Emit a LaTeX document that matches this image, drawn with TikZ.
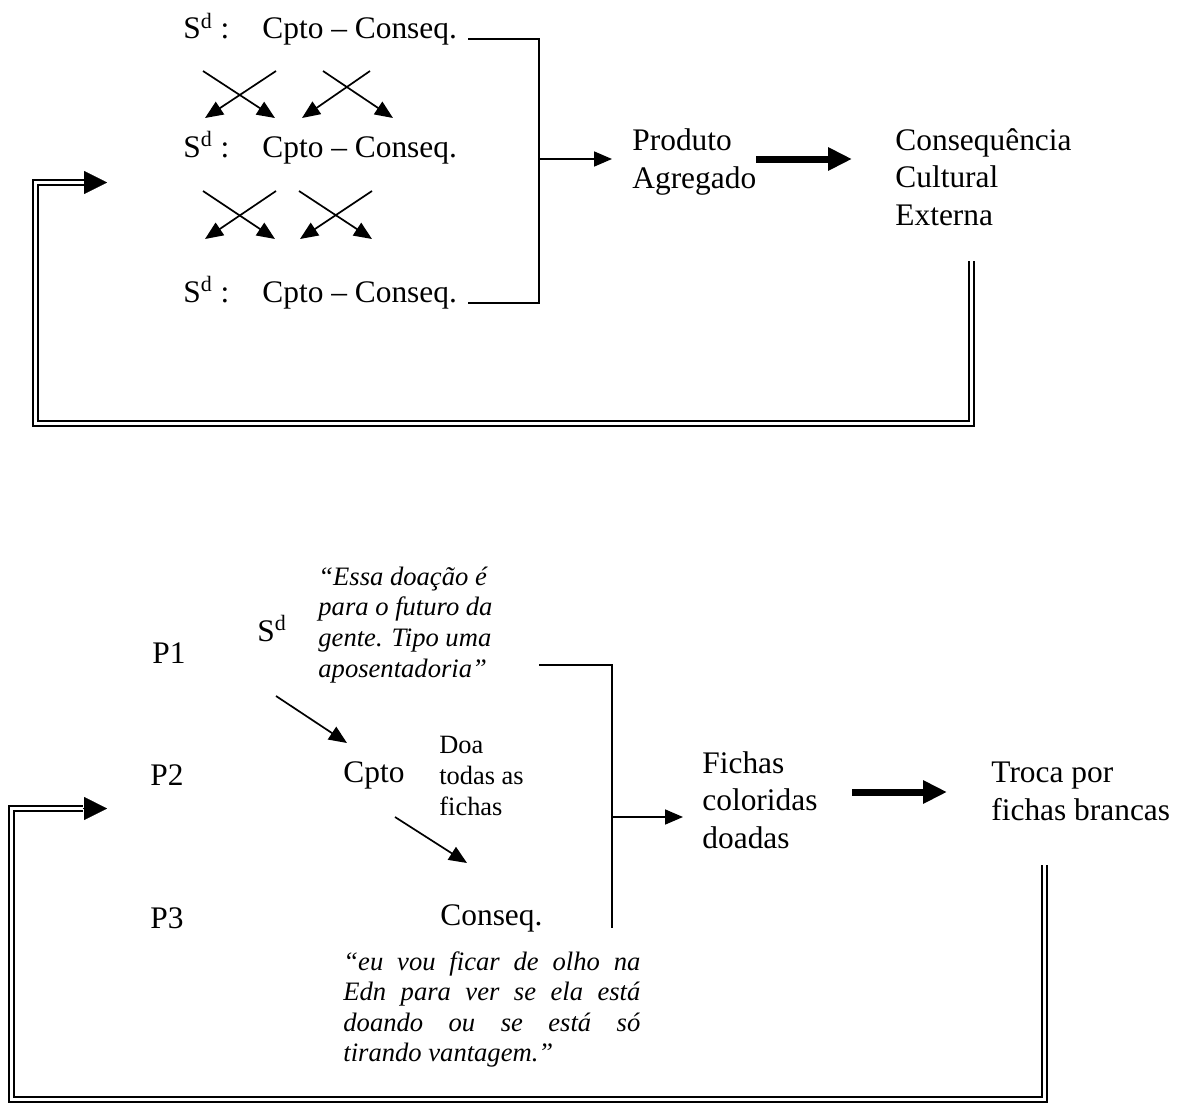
\documentclass[tikz,border=0pt]{standalone}
\usepackage{fontspec}
\setmainfont{Liberation Serif}
\usetikzlibrary{arrows.meta}

\newcommand\bigtxt{\fontsize{15.7pt}{18.7pt}\selectfont}
\newcommand\quotetxt{\fontsize{13.3pt}{15.3pt}\selectfont\itshape}
\newcommand\smalltxt{\fontsize{13.2pt}{15.5pt}\selectfont}

\begin{document}
\begin{tikzpicture}[x=0.5pt, y=-0.5pt]
      \tikzstyle{every node}=[anchor=base west, inner sep=0pt, align=left,
        font=\bigtxt]
      \tikzstyle{link}=[line width=0.85pt]
      \tikzstyle{arr}=[link, -{Triangle[length=9pt, width=7.5pt]}]
      \tikzstyle{thickarr}=[line width=3.5pt, -{Triangle[length=12pt, width=11pt]}]
      \tikzstyle{feedback}=[double, line width=1pt, double distance=1.5pt]
      \tikzstyle{loophead}=[line width=0.1pt, -{Triangle[length=11.5pt, width=11.5pt]}]
      \useasboundingbox (0,0) rectangle (1182,1103);

      % general scheme
      \foreach \r/\y in {1/39, 2/157, 3/302} {
        \node at (183,\y) (sd\r) {S\textsuperscript{d} :};
        \node at (262,\y) (cc\r) {Cpto – Conseq.};
      }
      \node at (632,188) (prod) {Produto\\Agregado};
      \node at (895,225) (cce) {Consequência\\Cultural\\Externa};

      \foreach \n/\xa/\ya/\xb/\yb in {1/203/71/275/118, 2/276/71/205/118,
          3/323/71/393/118, 4/370/71/302/118, 5/203/191/275/239,
          6/276/191/205/239, 7/299/191/372/239, 8/372/191/300/239} {
        \coordinate (xs\n) at (\xa,\ya);
        \coordinate (xe\n) at (\xb,\yb);
        \draw[arr] (xs\n) -- (xe\n);
      }

      \coordinate (t1) at (468,39);
      \coordinate (tv) at (539,159);
      \coordinate (t3) at (468,303);
      \draw[link] (t1) -| (tv) |- (t3);
      \draw[arr, shorten >=10pt] (tv) -- (tv -| prod.west);
      \coordinate (k1) at (756,159);
      \coordinate (k2) at (852,159);
      \draw[thickarr] (k1) -- (k2);

      \coordinate (fr1) at (971.5,261);
      \coordinate (fb1) at (35.5,423.5);
      \coordinate (fh1) at (84,182.5);
      \coordinate (ft1) at (107,182.5);
      \draw[feedback] (fr1) |- (fb1) |- (fh1);
      \draw[loophead] (fh1) -- (ft1);

      % example from the session
      \node at (152,663) (p1) {P1};
      \node at (150,785) (p2) {P2};
      \node at (150,928) (p3) {P3};
      \node at (257,641) (sd) {S\textsuperscript{d}};
      \node[font=\quotetxt] at (318,677) (q1)
        {“Essa doação é\\para o futuro da\\gente. Tipo uma\\aposentadoria”};
      \node at (343,782) (cpto) {Cpto};
      \node[font=\smalltxt] at (439,815) (doa) {Doa\\todas as\\fichas};
      \node at (440,925) (cons) {Conseq.};
      \node[font=\quotetxt, text width=148.5pt, align=justify] at (343,970) (q2)
        {“eu vou ficar de olho na\linebreak Edn para ver se ela está\linebreak
         doando ou se está só\linebreak tirando vantagem.”};
      \node at (702,848) (fichas) {Fichas\\coloridas\\doadas};
      \node at (991,820) (troca) {Troca por\\fichas brancas};

      \coordinate (a1) at (276,696);
      \coordinate (a2) at (347,743);
      \coordinate (a3) at (395,817);
      \coordinate (a4) at (467,863);
      \draw[arr] (a1) -- (a2);
      \draw[arr] (a3) -- (a4);

      \coordinate (u1) at (539,665);
      \coordinate (uj) at (612,817);
      \coordinate (u2) at (612,928);
      \draw[link] (u1) -| (u2);
      \draw[arr, shorten >=9.5pt] (uj) -- (uj -| fichas.west);
      \coordinate (k3) at (852,792);
      \coordinate (k4) at (947,792);
      \draw[thickarr] (k3) -- (k4);

      \coordinate (fr2) at (1044.5,865);
      \coordinate (fb2) at (11.5,1099.5);
      \coordinate (fh2) at (83,808.5);
      \coordinate (ft2) at (107,808.5);
      \draw[feedback] (fr2) |- (fb2) |- (fh2);
      \draw[loophead] (fh2) -- (ft2);
\end{tikzpicture}
\end{document}
